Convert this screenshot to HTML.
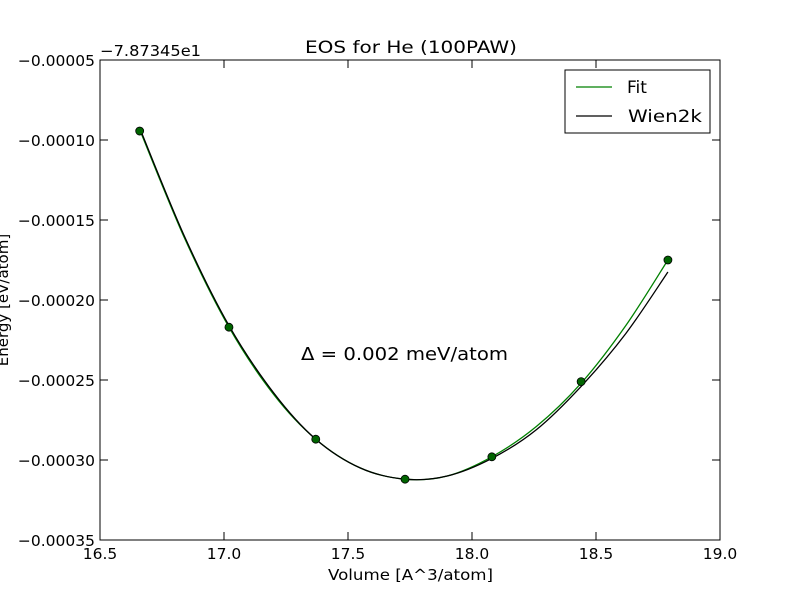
<!DOCTYPE html>
<html><head><meta charset="utf-8"><style>
body{margin:0;background:#fff;}
svg text{font-family:"DejaVu Sans","Liberation Sans",sans-serif;fill:#000;}
</style></head><body>
<svg id="chart" width="800" height="600" viewBox="0 0 800 600">
<rect x="0" y="0" width="800" height="600" fill="#fff"/>
<g id="marks"></g>
<rect x="100" y="60" width="620" height="480" fill="none" stroke="#000" stroke-width="1"/>
<g id="ticks"></g>
<text x="305" y="53" font-size="17" textLength="212" lengthAdjust="spacingAndGlyphs">EOS for He (100PAW)</text>
<text x="100" y="56" font-size="15" textLength="101" lengthAdjust="spacingAndGlyphs">−7.87345e1</text>
<text x="328" y="580" font-size="15" textLength="165" lengthAdjust="spacingAndGlyphs">Volume [A^3/atom]</text>
<text transform="translate(8,300) rotate(-90)" font-size="15" text-anchor="middle">Energy [eV/atom]</text>
<text x="301" y="360" font-size="18" textLength="207" lengthAdjust="spacingAndGlyphs">Δ = 0.002 meV/atom</text>
<g>
<rect x="565" y="70" width="145" height="63" fill="#fff" stroke="#000" stroke-width="1"/>
<line x1="576" y1="87" x2="612" y2="87" stroke="#008000" stroke-width="1.3"/>
<text x="627" y="93" font-size="17">Fit</text>
<line x1="576" y1="116" x2="612" y2="116" stroke="#000" stroke-width="1.3"/>
<text x="628" y="122" font-size="17" textLength="74" lengthAdjust="spacingAndGlyphs">Wien2k</text>
</g>
</svg>
<script>
const volumes = [16.66, 17.02, 17.37, 17.73, 18.08, 18.44, 18.79];
const energies = [-0.0000944, -0.000217, -0.000287, -0.000312, -0.000298, -0.000251, -0.000175];
const fitVolumes = [16.66, 16.84, 17.02, 17.2, 17.37, 17.55, 17.73, 17.9, 18.08, 18.26, 18.44, 18.62, 18.79];
const fitEnergies = [-0.0000935, -0.000161, -0.000217, -0.000259, -0.000287, -0.000305, -0.000312, -0.000310, -0.000298, -0.000279, -0.000252, -0.000216, -0.000175];
const wienEnergies = [-0.0000925, -0.000160, -0.000216, -0.000258, -0.000287, -0.000305, -0.000312, -0.000310, -0.000299, -0.000281, -0.000254, -0.000221, -0.0001825];
const xTicks = [16.5, 17.0, 17.5, 18.0, 18.5, 19.0];
const yTicks = [-0.00005, -0.0001, -0.00015, -0.0002, -0.00025, -0.0003, -0.00035];
const xTickLabels = ["16.5", "17.0", "17.5", "18.0", "18.5", "19.0"];
const yTickLabels = ["−0.00005", "−0.00010", "−0.00015", "−0.00020", "−0.00025", "−0.00030", "−0.00035"];

const NS = "http://www.w3.org/2000/svg";
const X = v => 100 + (v - 16.5) / 2.5 * 620;
const Y = e => 60 + (-0.00005 - e) / 0.0003 * 480;
const marks = document.getElementById('marks');
const ticks = document.getElementById('ticks');

function smoothPath(xs, ys) {
  const p = xs.map((x, i) => [X(x), Y(ys[i])]);
  let d = "M" + p[0][0] + "," + p[0][1];
  for (let i = 0; i < p.length - 1; i++) {
    const p0 = p[i - 1] || p[i], p1 = p[i], p2 = p[i + 1], p3 = p[i + 2] || p2;
    const c1 = [p1[0] + (p2[0] - p0[0]) / 6, p1[1] + (p2[1] - p0[1]) / 6];
    const c2 = [p2[0] - (p3[0] - p1[0]) / 6, p2[1] - (p3[1] - p1[1]) / 6];
    d += " C" + c1 + " " + c2 + " " + p2;
  }
  return d;
}
const fit = document.createElementNS(NS, 'path');
fit.setAttribute('d', smoothPath(fitVolumes, fitEnergies));
fit.setAttribute('fill', 'none'); fit.setAttribute('stroke', '#008000'); fit.setAttribute('stroke-width', '1.3');


marks.appendChild(fit);
const wien = document.createElementNS(NS, 'path');
wien.setAttribute('d', smoothPath(fitVolumes, wienEnergies));
wien.setAttribute('fill', 'none'); wien.setAttribute('stroke', '#000'); wien.setAttribute('stroke-width', '1.3');


marks.appendChild(wien);
volumes.forEach((v, i) => {
  const c = document.createElementNS(NS, 'circle');
  c.setAttribute('cx', X(v)); c.setAttribute('cy', Y(energies[i])); c.setAttribute('r', 4);
  c.setAttribute('fill', '#006400'); c.setAttribute('stroke', '#000'); c.setAttribute('stroke-width', '0.8');
  
  
  marks.appendChild(c);
});
xTicks.forEach((v, i) => {
  const x = X(v);
  [[540, 532], [60, 68]].forEach(([a, b]) => {
    const l = document.createElementNS(NS, 'line');
    l.setAttribute('x1', x); l.setAttribute('x2', x); l.setAttribute('y1', a); l.setAttribute('y2', b);
    l.setAttribute('stroke', '#000');
    
    
    ticks.appendChild(l);
  });
  const t = document.createElementNS(NS, 'text');
  t.setAttribute('x', x); t.setAttribute('y', 559); t.setAttribute('font-size', '15.5'); t.setAttribute('text-anchor', 'middle');
  t.textContent = xTickLabels[i];
  
  
  ticks.appendChild(t);
});
yTicks.forEach((v, i) => {
  const y = Y(v);
  [[100, 108], [720, 712]].forEach(([a, b]) => {
    const l = document.createElementNS(NS, 'line');
    l.setAttribute('x1', a); l.setAttribute('x2', b); l.setAttribute('y1', y); l.setAttribute('y2', y);
    l.setAttribute('stroke', '#000');
    
    
    ticks.appendChild(l);
  });
  const t = document.createElementNS(NS, 'text');
  t.setAttribute('x', 95); t.setAttribute('y', y + 6); t.setAttribute('font-size', '15.5'); t.setAttribute('text-anchor', 'end');
  t.textContent = yTickLabels[i];
  
  
  ticks.appendChild(t);
});
</script>
</body></html>
